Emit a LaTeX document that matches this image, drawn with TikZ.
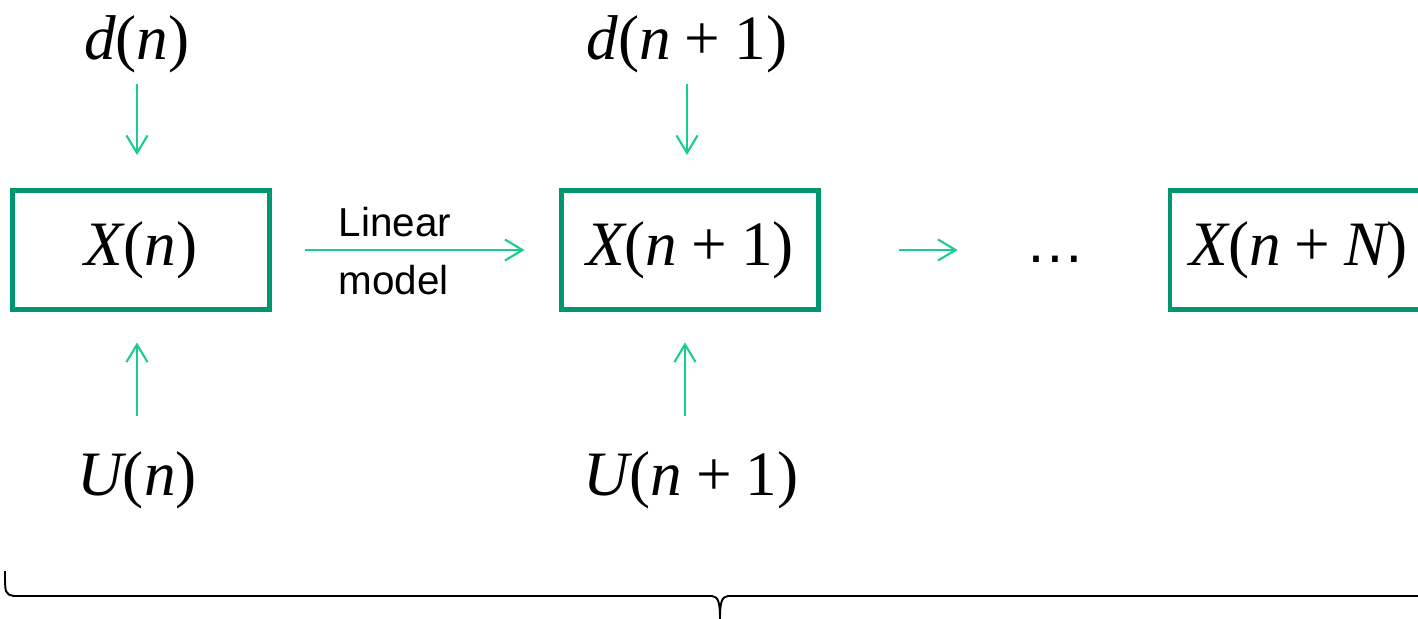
\documentclass[tikz,border=0pt]{standalone}
\usepackage{fontspec}
\newfontfamily\tms{Liberation Serif}
\newfontfamily\ars{Liberation Sans}
\usetikzlibrary{arrows.meta}
\definecolor{boxgreen}{RGB}{0,150,112}
\definecolor{arrgreen}{RGB}{25,205,145}
\newcommand{\iv}[1]{{\itshape #1}}
\newcommand{\mpl}{\hspace{0.22em}+\hspace{0.22em}}
\begin{document}
\begin{tikzpicture}[x=0.02cm,y=-0.02cm,
  stbox/.style={draw=boxgreen,line width=2.8pt,minimum width=5.14cm,minimum height=2.38cm,inner sep=0pt,font=\tms\fontsize{36}{40}\selectfont},
  mlab/.style={font=\tms\fontsize{36}{40}\selectfont,inner sep=0pt},
  arr/.style={draw=arrgreen,line width=1.2pt,-{Straight Barb[length=10pt,width=12pt,line width=1.2pt]}},
  brc/.style={draw=black,line width=1.1pt}]
\useasboundingbox (0,0) rectangle (1418,619);
\clip (0,0) rectangle (1418,619);
% boxes
\node[stbox] (b1) at (141,250) {\iv{X}(\iv{n})};
\node[stbox] (b2) at (690,250) {\iv{X}(\iv{n}\mpl 1)};
\node[stbox] (b3) at (1298.5,250) {\iv{X}(\iv{n}\mpl \iv{N})};
% labels
\node[mlab] (dn) at (137,44) {\iv{d}(\iv{n})};
\node[mlab] (dn1) at (687,44) {\iv{d}(\iv{n}\mpl 1)};
\node[mlab] (un) at (137,480) {\iv{U}(\iv{n})};
\node[mlab] (un1) at (691,480) {\iv{U}(\iv{n}\mpl 1)};
\node[font=\ars\fontsize{23}{33}\selectfont,align=left,inner sep=0pt] (lm) at (395,251) {Linear\\model};
\node[font=\ars\fontsize{34}{38}\selectfont,inner sep=0pt,anchor=base] (dots) at (1055,262) {…};
% arrows
\draw[arr,shorten <=0.22cm,shorten >=0.66cm] (dn.south) -- (dn.south |- b1.north);
\draw[arr,shorten <=0.22cm,shorten >=0.66cm] (dn1.south) -- (dn1.south |- b2.north);
\draw[arr,shorten <=0.7cm,shorten >=0.61cm] (un.north) -- (un.north |- b1.south);
\draw[arr,shorten <=0.7cm,shorten >=0.61cm] ([xshift=-0.12cm]un1.north) -- ([xshift=-0.12cm]un1.north |- b2.south);
\draw[arr,shorten <=0.67cm,shorten >=0.69cm] (b1.east) -- (b2.west);
\draw[arr,shorten <=1.57cm,shorten >=4.2cm] (b2.east) -- (b3.west);
% brace
\coordinate (bl) at (5,571);
\coordinate (bm) at (720,619);
\coordinate (br) at (1440,571);
\draw[brc] (bl) .. controls (5,594) .. (14,596) -- (712,596) .. controls (718,597) and (720,601) .. (bm);
\draw[brc] (bm) .. controls (720,601) and (722,597) .. (728,596) -- (1430,596) .. controls (1435,594) .. (br);
\end{tikzpicture}
\end{document}
